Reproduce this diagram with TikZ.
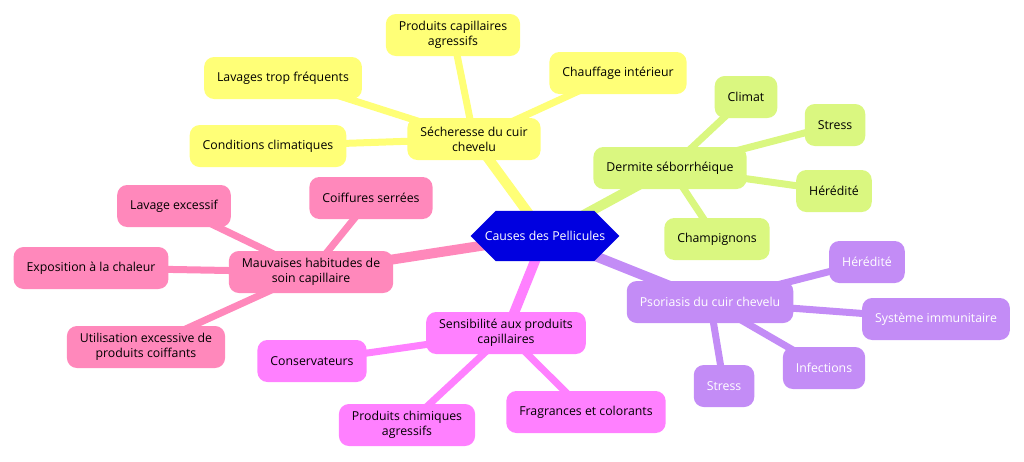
\documentclass[tikz,border=0pt]{standalone}
\usepackage{fontspec}
\setmainfont{Open Sans}
\usetikzlibrary{shapes.misc,backgrounds}
\definecolor{jaune}{HTML}{FFFF77}
\definecolor{vert}{HTML}{DAF780}
\definecolor{rose}{HTML}{FF88BB}
\definecolor{magenta}{HTML}{FF80FF}
\definecolor{violet}{HTML}{C38CF6}
\definecolor{bleu}{HTML}{0000E0}
\tikzset{
  idee/.style={rounded corners=10pt, inner xsep=13pt, minimum height=42pt, align=center, font=\fontsize{12.3}{15}\selectfont},
  racine/.style={chamfered rectangle, chamfered rectangle xsep=10pt, chamfered rectangle ysep=17pt, fill=bleu, text=white, inner xsep=6pt, minimum height=34pt, font=\fontsize{12.3}{15}\selectfont},
  lien/.style={line width=7pt},
  branche/.style={line width=10pt}
}
\begin{document}
\begin{tikzpicture}[x=1pt,y=-1pt]
\useasboundingbox (0,0) rectangle (1024,461);
% Centre
\node[racine] (root) at (545,236) {Causes des Pellicules};

% Secheresse
\node[idee, fill=jaune] (sech) at (474,139) {Sécheresse du cuir\\chevelu};
\node[idee, fill=jaune] (prod) at (453,35) {Produits capillaires\\agressifs};
\node[idee, fill=jaune] (lav) at (283,78) {Lavages trop fréquents};
\node[idee, fill=jaune] (chauf) at (618,73) {Chauffage intérieur};
\node[idee, fill=jaune] (clim) at (268,146) {Conditions climatiques};

% Dermite
\node[idee, fill=vert] (derm) at (670,168) {Dermite séborrhéique};
\node[idee, fill=vert] (climat) at (746,97) {Climat};
\node[idee, fill=vert] (stress1) at (835,125) {Stress};
\node[idee, fill=vert] (hered1) at (834,191) {Hérédité};
\node[idee, fill=vert] (champ) at (717,239) {Champignons};

% Mauvaises habitudes
\node[idee, fill=rose] (habit) at (311,272) {Mauvaises habitudes de\\soin capillaire};
\node[idee, fill=rose] (lavex) at (174,206) {Lavage excessif};
\node[idee, fill=rose] (coif) at (371,198) {Coiffures serrées};
\node[idee, fill=rose] (expo) at (91,268) {Exposition à la chaleur};
\node[idee, fill=rose] (util) at (146,347) {Utilisation excessive de\\produits coiffants};

% Sensibilite
\node[idee, fill=magenta] (sens) at (506,333) {Sensibilité aux produits\\capillaires};
\node[idee, fill=magenta] (cons) at (312,361) {Conservateurs};
\node[idee, fill=magenta] (chim) at (407,425) {Produits chimiques\\agressifs};
\node[idee, fill=magenta] (frag) at (586,412) {Fragrances et colorants};

% Psoriasis
\node[idee, fill=violet, text=white] (psor) at (710,302) {Psoriasis du cuir chevelu};
\node[idee, fill=violet, text=white] (hered2) at (867,262) {Hérédité};
\node[idee, fill=violet, text=white] (syst) at (936,319) {Système immunitaire};
\node[idee, fill=violet, text=white] (inf) at (824,368) {Infections};
\node[idee, fill=violet, text=white] (stress2) at (724,386) {Stress};

\begin{scope}[on background layer]
\draw[branche, jaune] (root.center) -- (sech.center);
\draw[branche, vert] (root.center) -- (derm.center);
\draw[branche, rose] (root.center) -- (habit.center);
\draw[branche, magenta] (root.center) -- (sens.center);
\draw[branche, violet] (root.center) -- (psor.center);
\foreach \n in {prod,lav,chauf,clim} \draw[lien, jaune] (sech.center) -- (\n.center);
\foreach \n in {climat,stress1,hered1,champ} \draw[lien, vert] (derm.center) -- (\n.center);
\foreach \n in {lavex,coif,expo,util} \draw[lien, rose] (habit.center) -- (\n.center);
\foreach \n in {cons,chim,frag} \draw[lien, magenta] (sens.center) -- (\n.center);
\foreach \n in {hered2,syst,inf,stress2} \draw[lien, violet] (psor.center) -- (\n.center);
\end{scope}
\end{tikzpicture}
\end{document}
